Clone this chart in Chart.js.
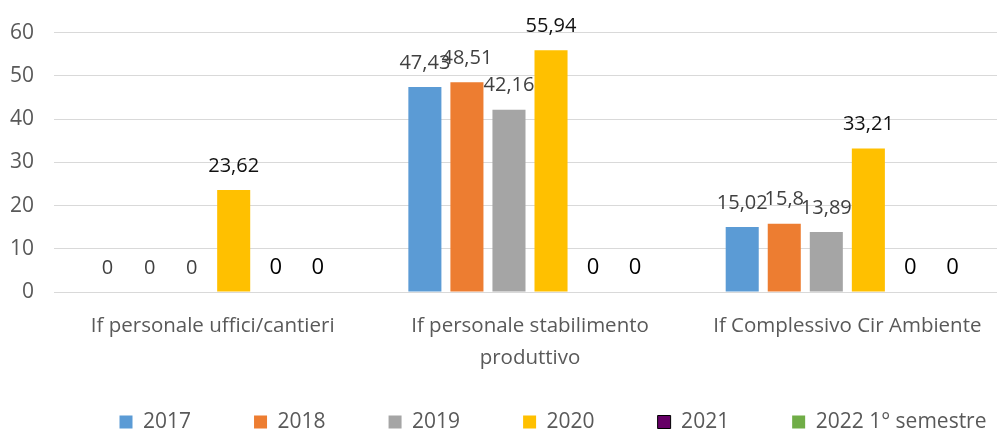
<!DOCTYPE html>
<html>
<head>
<meta charset="utf-8">
<script src="https://cdn.jsdelivr.net/npm/chart.js@4"></script>
<style>
  html, body { margin: 0; padding: 0; background: #fff; overflow: hidden; }
  #wrap { width: 1104px; height: 431px; position: relative; }
</style>
</head>
<body>
<div id="wrap"><canvas id="grafico"></canvas></div>
<script>
const categorie = ['If personale uffici/cantieri', ['If personale stabilimento', 'produttivo'], 'If Complessivo Cir Ambiente'];
const anni = ['2017', '2018', '2019', '2020', '2021', '2022 1° semestre'];
const valori2017 = [0, 47.43, 15.02];
const valori2018 = [0, 48.51, 15.8];
const valori2019 = [0, 42.16, 13.89];
const valori2020 = [23.62, 55.94, 33.21];
const valori2021 = [0, 0, 0];
const valori2022 = [0, 0, 0];
const tickY = [0, 10, 20, 30, 40, 50, 60];

const FONT = "'Open Sans', sans-serif";

// etichette dei valori sopra le barre
const etichette = {
    id: 'etichette',
    afterDatasetsDraw(chart) {
        const ctx = chart.ctx;
        ctx.save();
        ctx.textAlign = 'center';
        ctx.textBaseline = 'middle';
        chart.data.datasets.forEach((ds, i) => {
            const meta = chart.getDatasetMeta(i);
            meta.data.forEach((bar, j) => {
                const testo = String(ds.data[j]).replace('.', ',');
                ctx.fillStyle = ds.coloreEtichetta;
                ctx.font = ds.fontEtichetta + 'px ' + FONT;
                ctx.fillText(testo, bar.x, bar.y - 24);
            });
        });
        ctx.restore();
    }
};

// legenda: spaziatura larga tra le voci ma altezza contenuta
const legendaBassa = {
    id: 'legendaBassa',
    afterInit(chart) {
        const lg = chart.legend;
        const fitOrig = lg.fit.bind(lg);
        lg.fit = function() {
            fitOrig();
            this.height = 40;
        };
    },
    afterUpdate(chart) {
        const lg = chart.legend;
        lg.top = 411.5 - lg.options.labels.padding;
        lg.left += 50;
        lg.right += 50;
    }
};

new Chart(document.getElementById('grafico').getContext('2d'), {
    type: 'bar',
    data: {
        labels: categorie,
        datasets: [
            { label: anni[0], data: valori2017, backgroundColor: '#5B9BD5', coloreEtichetta: '#404040', fontEtichetta: 20 },
            { label: anni[1], data: valori2018, backgroundColor: '#ED7D31', coloreEtichetta: '#404040', fontEtichetta: 20 },
            { label: anni[2], data: valori2019, backgroundColor: '#A5A5A5', coloreEtichetta: '#404040', fontEtichetta: 20 },
            { label: anni[3], data: valori2020, backgroundColor: '#FFC000', coloreEtichetta: '#111111', fontEtichetta: 20 },
            { label: anni[4], data: valori2021, backgroundColor: '#660066', borderColor: '#000000', borderWidth: 1, coloreEtichetta: '#000000', fontEtichetta: 22 },
            { label: anni[5], data: valori2022, backgroundColor: '#70AD47', coloreEtichetta: '#000000', fontEtichetta: 22 }
        ]
    },
    options: {
        responsive: true,
        maintainAspectRatio: false,
        animation: false,
        datasets: {
            bar: { categoryPercentage: 0.795, barPercentage: 0.786 }
        },
        layout: { padding: { top: 30, right: 98, left: 0, bottom: 0 } },
        scales: {
            x: {
                grid: { display: false },
                border: { display: false },
                ticks: {
                    color: '#595959',
                    font: { family: FONT, size: 20.5, lineHeight: 1.55 },
                    padding: 10,
                    maxRotation: 0,
                    autoSkip: false
                },
                afterFit(scale) { scale.height = 99; }
            },
            y: {
                min: 0,
                max: 60,
                afterBuildTicks(scale) { scale.ticks = tickY.map(v => ({ value: v })); },
                grid: { color: '#D9D9D9', lineWidth: 1, drawTicks: false },
                border: { display: false },
                ticks: {
                    color: '#595959',
                    font: { family: FONT, size: 21 },
                    padding: 20
                },
                afterFit(scale) { scale.width = 54; }
            }
        },
        plugins: {
            legend: {
                position: 'bottom',
                labels: {
                    color: '#595959',
                    font: { family: FONT, size: 21 },
                    boxWidth: 13,
                    boxHeight: 13,
                    padding: 63
                }
            },
            tooltip: { enabled: false }
        }
    },
    plugins: [etichette, legendaBassa]
});
</script>
</body>
</html>
